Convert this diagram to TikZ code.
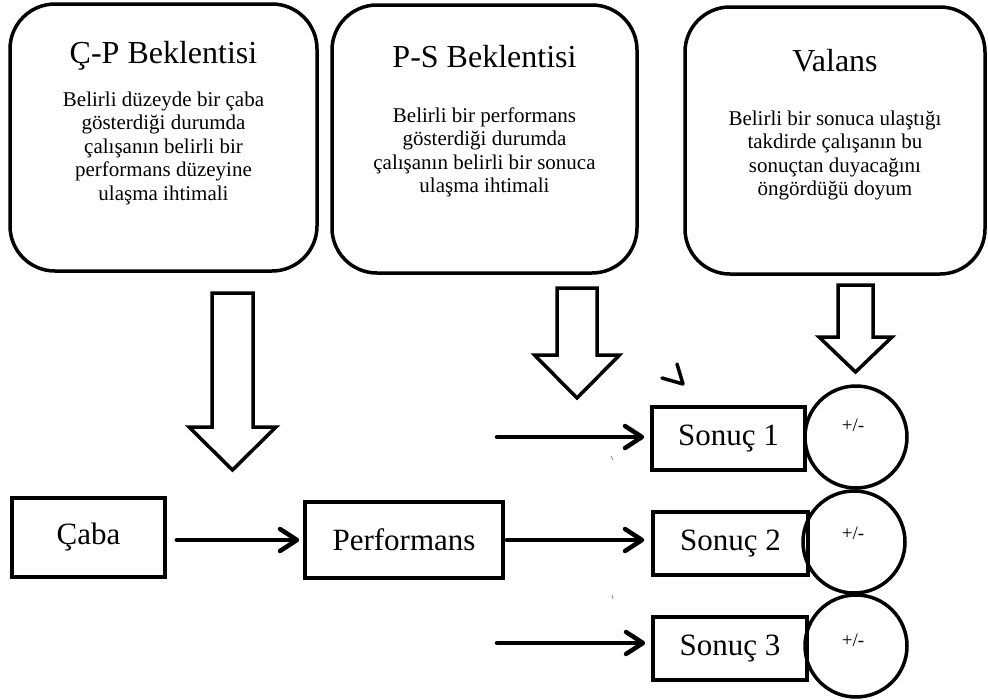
\documentclass[tikz,border=0pt]{standalone}
\usepackage{fontspec}
\setmainfont{Liberation Serif}
\usetikzlibrary{arrows.meta}
\newcommand\hollowarrow[6]{%
  \draw[barrow] (#1-#5,#2) -- (#1+#5,#2) -- (#1+#5,#3) -- (#1+#6,#3) -- (#1,#4) -- (#1-#6,#3) -- (#1-#5,#3) -- cycle;}
\begin{document}
\begin{tikzpicture}[x=1pt,y=-1pt,
  rbox/.style={draw, line width=3.5pt, rounded corners=45pt, inner sep=0pt},
  sbox/.style={draw, line width=3.5pt, inner sep=0pt, font=\fontsize{31}{31}\selectfont},
  ttl/.style={font=\fontsize{32}{32}\selectfont},
  body/.style={font=\fontsize{21}{23.5}\selectfont, align=center},
  conn/.style={line width=4.5pt, line cap=round, -{Straight Barb[length=17pt,width=22pt,line cap=round,line join=round]}},
  barrow/.style={line width=3.5pt, line join=miter},
  pm/.style={font=\fontsize{19}{19}\selectfont},
  ring/.style={draw, circle, line width=3.5pt, minimum size=102pt, inner sep=0pt}]
\useasboundingbox (0,0) rectangle (988,699);

% top rounded boxes
\node[rbox, minimum width=307pt, minimum height=267pt] (cp) at (163.5,137.5) {};
\node[ttl] (cpt) at (163.5,56) {Ç-P Beklentisi};
\node[body] (cpb) at (163.5,148) {Belirli düzeyde bir çaba\\gösterdiği durumda\\çalışanın belirli bir\\performans düzeyine\\ulaşma ihtimali};

\node[rbox, minimum width=305pt, minimum height=268pt] (ps) at (484.5,139) {};
\node[ttl] (pst) at (484.5,57) {P-S Beklentisi};
\node[body] (psb) at (484.5,152.5) {Belirli bir performans\\gösterdiği durumda\\çalışanın belirli bir sonuca\\ulaşma ihtimali};

\node[rbox, minimum width=300pt, minimum height=267pt] (va) at (835,140.5) {};
\node[ttl] (vat) at (835,61) {Valans};
\node[body] (vab) at (835,155.5) {Belirli bir sonuca ulaştığı\\takdirde çalışanın bu\\sonuçtan duyacağını\\öngördüğü doyum};

% hollow block arrows
\hollowarrow{232.5}{293}{427}{470}{20.5}{43.5}
\hollowarrow{577}{288}{355}{398}{20}{42.5}
\hollowarrow{855.5}{285}{337}{372}{17.5}{36.5}

% bottom boxes
\node[sbox, minimum width=153pt, minimum height=79pt] (caba) at (88.5,537.5) {Çaba};
\node[sbox, minimum width=198pt, minimum height=76pt] (perf) at (404,540) {Performans};
\node[sbox, minimum width=153pt, minimum height=63pt] (son1) at (728.5,438.5) {Sonuç 1};
\node[sbox, minimum width=155pt, minimum height=63pt] (son2) at (730.5,543.5) {Sonuç 2};
\node[sbox, minimum width=154pt, minimum height=63pt] (son3) at (730,648.5) {Sonuç 3};

\node[ring] (c1) at (856,437) {};
\node[ring] (c2) at (854,542) {};
\node[ring] (c3) at (856,646) {};
\node[pm] (p1) at (853,425) {+/-};
\node[pm] (p2) at (853,533) {+/-};
\node[pm] (p3) at (853,640) {+/-};

% connectors
\draw[conn, shorten <=10pt, shorten >=4pt] (perf.west -| caba.east) -- (perf.west);
\draw[conn, shorten <=2pt, shorten >=7pt] (perf.east) -- (perf.east -| son2.west);
\coordinate (in1) at (497,437);
\coordinate (in3) at (497,643);
\draw[conn, shorten >=6pt] (in1) -- (in1 -| son1.west);
\draw[conn, shorten >=6pt] (in3) -- (in3 -| son3.west);

% stray marks
\draw[line width=3.5pt, line cap=round, line join=round] (662,378) -- (683,384) -- (677,364);
\draw[gray, line width=0.8pt] (611,456) -- (613,460);
\draw[gray, line width=0.8pt] (612,595) -- (613,599);
\end{tikzpicture}
\end{document}
